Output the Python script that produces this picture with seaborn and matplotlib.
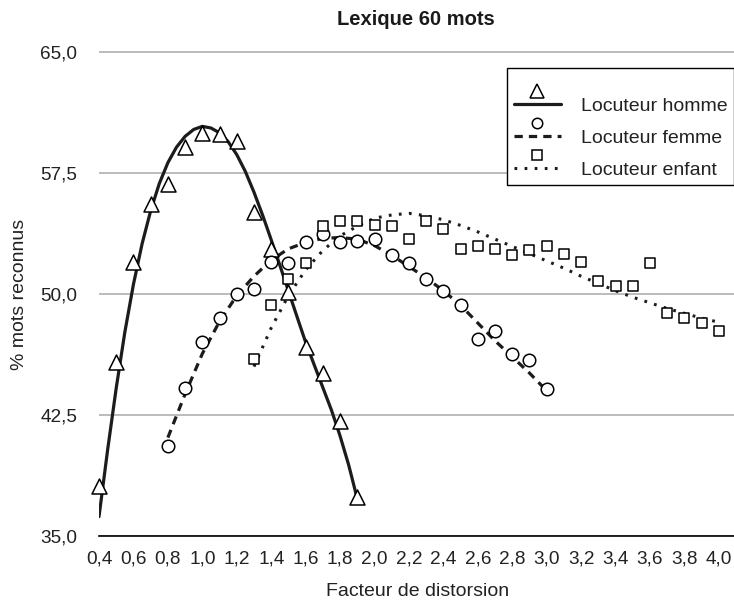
import numpy as np
import matplotlib
matplotlib.use("Agg")
import matplotlib.pyplot as plt
import seaborn as sns
from matplotlib.legend_handler import HandlerBase
from matplotlib.lines import Line2D

# ---------------- data ----------------
title = "Lexique 60 mots"
x_label = "Facteur de distorsion"
y_label = "% mots reconnus"
series_names = ["Locuteur homme", "Locuteur femme", "Locuteur enfant"]

# measured points (markers)
homme_x = [0.4, 0.5, 0.6, 0.7, 0.8, 0.9, 1.0, 1.1, 1.2, 1.3, 1.4, 1.5, 1.6, 1.7, 1.8, 1.9]
homme_y = [38.1, 45.8, 52.0, 55.6, 56.8, 59.1, 60.0, 59.9, 59.5, 55.1, 52.8, 50.1, 46.7, 45.1, 42.1, 37.4]

femme_x = [0.8, 0.9, 1.0, 1.1, 1.2, 1.3, 1.4, 1.5, 1.6, 1.7, 1.8, 1.9, 2.0, 2.1, 2.2,
           2.3, 2.4, 2.5, 2.6, 2.7, 2.8, 2.9, 3.0]
femme_y = [40.6, 44.2, 47.0, 48.5, 50.0, 50.3, 52.0, 51.9, 53.2, 53.7, 53.2, 53.3, 53.4, 52.4, 51.9,
           50.9, 50.2, 49.3, 47.2, 47.7, 46.3, 45.9, 44.1]

enfant_x = [1.3, 1.4, 1.5, 1.6, 1.7, 1.8, 1.9, 2.0, 2.1, 2.2, 2.3, 2.4, 2.5, 2.6, 2.7,
            2.8, 2.9, 3.0, 3.1, 3.2, 3.3, 3.4, 3.5, 3.6, 3.7, 3.8, 3.9, 4.0]
enfant_y = [46.0, 49.3, 50.9, 51.9, 54.2, 54.5, 54.5, 54.3, 54.2, 53.4, 54.5, 54.0, 52.8, 53.0, 52.8,
            52.4, 52.7, 53.0, 52.5, 52.0, 50.8, 50.5, 50.5, 51.9, 48.8, 48.5, 48.2, 47.7]

# trend curves
homme_trend_x = [0.40, 0.45, 0.50, 0.55, 0.60, 0.65, 0.70, 0.75, 0.80, 0.85, 0.90, 0.95, 1.00,
                 1.05, 1.10, 1.15, 1.20, 1.25, 1.30, 1.35, 1.40, 1.45, 1.50, 1.55, 1.60,
                 1.65, 1.70, 1.75, 1.80, 1.85, 1.90]
homme_trend_y = [36.2, 40.33, 44.17, 47.63, 50.6, 53.1, 55.16, 56.84, 58.14, 59.1, 59.77, 60.2, 60.39,
                 60.29, 59.99, 59.44, 58.64, 57.59, 56.31, 54.89, 53.36, 51.79, 50.19, 48.59, 47.01,
                 45.6, 44.2, 42.8, 41.2, 39.4, 37.3]

femme_trend_x = [0.8, 0.9, 1.0, 1.1, 1.2, 1.3, 1.4, 1.5, 1.6, 1.7, 1.8, 1.9, 2.0, 2.1, 2.2,
                 2.3, 2.4, 2.5, 2.6, 2.7, 2.8, 2.9, 3.0]
femme_trend_y = [41.1, 43.8, 46.3, 48.3, 49.9, 51.1, 52.1, 52.8, 53.2, 53.45, 53.5, 53.4, 53.0,
                 52.4, 51.7, 51.0, 50.2, 49.3, 48.2, 47.1, 46.1, 45.1, 44.0]

enfant_trend_x = [1.3, 1.4, 1.5, 1.6, 1.7, 1.8, 1.9, 2.0, 2.1, 2.2, 2.3, 2.4, 2.5, 2.6, 2.7,
                  2.8, 2.9, 3.0, 3.1, 3.2, 3.3, 3.4, 3.5, 3.6, 3.7, 3.8, 3.9, 4.0]
enfant_trend_y = [45.5, 47.9, 49.9, 51.5, 52.7, 53.6, 54.2, 54.7, 54.9, 55.0, 54.85, 54.6, 54.25,
                  53.85, 53.4, 52.95, 52.5, 52.05, 51.6, 51.1, 50.65, 50.2, 49.8, 49.45, 49.1,
                  48.8, 48.5, 48.25]

x_ticks = [0.4, 0.6, 0.8, 1.0, 1.2, 1.4, 1.6, 1.8, 2.0, 2.2, 2.4, 2.6, 2.8, 3.0, 3.2, 3.4, 3.6, 3.8, 4.0]
x_tick_labels = ["0,4", "0,6", "0,8", "1,0", "1,2", "1,4", "1,6", "1,8", "2,0", "2,2",
                 "2,4", "2,6", "2,8", "3,0", "3,2", "3,4", "3,6", "3,8", "4,0"]
y_ticks = [35.0, 42.5, 50.0, 57.5, 65.0]
y_tick_labels = ["35,0", "42,5", "50,0", "57,5", "65,0"]

# ---------------- style ----------------
sns.set_theme(style="white")
plt.rcParams["font.family"] = ["Liberation Sans", "DejaVu Sans"]

INK = "#1c1c1c"
GRID = "#a9a9a9"

W, H = 734, 600
fig = plt.figure(figsize=(W / 100, H / 100), dpi=100)
ax = fig.add_axes([99 / W, 1 - 536 / H, 635 / W, (536 - 51.2) / H])

styles = [
    dict(marker="^", ms=10.8, lms=9.5, ls="-", lw=2.3),
    dict(marker="o", ms=9.0, lms=7.5, ls=(0, (2.6, 1.9)), lw=2.3),
    dict(marker="s", ms=7.8, lms=7.6, ls=(0, (0.9, 2.4)), lw=2.2),
]
points = [(homme_x, homme_y), (femme_x, femme_y), (enfant_x, enfant_y)]
trends = [(homme_trend_x, homme_trend_y), (femme_trend_x, femme_trend_y),
          (enfant_trend_x, enfant_trend_y)]

for (px, py), (tx, ty), st in zip(points, trends, styles):
    sns.lineplot(x=tx, y=ty, ax=ax, color=INK, linewidth=st["lw"],
                 linestyle=st["ls"], zorder=2, legend=False, sort=True)
    sns.scatterplot(x=px, y=py, ax=ax, marker=st["marker"], s=st["ms"] ** 2,
                    color="white", edgecolor="black", linewidth=1.1, zorder=3,
                    legend=False, clip_on=False)

ax.set_xlim(0.4, 0.4 + 635 / 172.2)
ax.set_ylim(35.0, 65.05)
ax.set_xticks(x_ticks)
ax.set_xticklabels(x_tick_labels)
ax.set_yticks(y_ticks)
ax.set_yticklabels(y_tick_labels)
ax.tick_params(axis="x", length=0, pad=10.8, labelsize=13.7, labelcolor="#222222")
ax.tick_params(axis="y", length=0, pad=15.8, labelsize=13.7, labelcolor="#222222")
ax.set_xlabel("")
ax.set_ylabel("")

ax.yaxis.grid(True, color=GRID, linewidth=1.1)
ax.xaxis.grid(False)
ax.set_axisbelow(True)
for s in ["top", "right", "left"]:
    ax.spines[s].set_visible(False)
ax.spines["bottom"].set_color("black")
ax.spines["bottom"].set_linewidth(1.2)
ax.spines["bottom"].set_zorder(4)

fig.text(416 / W, 1 - 25 / H, title, ha="center", va="baseline",
         fontsize=14.5, fontweight="bold", color="#1a1a1a")
fig.text(417.5 / W, 1 - 596 / H, x_label, ha="center", va="baseline",
         fontsize=14, color="#222222")
fig.text(20 / W, 1 - 294 / H, y_label, ha="center", va="center",
         rotation=90, fontsize=14, color="#222222")


# ---------------- legend ----------------
class StackHandler(HandlerBase):
    def __init__(self, marker, ms, ls, lw, offset_pt=10.0):
        super().__init__()
        self.marker, self.ms, self.ls, self.lw, self.off = marker, ms, ls, lw, offset_pt

    def create_artists(self, legend, orig_handle, xdescent, ydescent, width, height,
                       fontsize, trans):
        yc = (height - ydescent) / 2
        line = Line2D([-xdescent, -xdescent + width], [yc, yc], color=INK,
                      linewidth=self.lw, linestyle=self.ls)
        mk = Line2D([-xdescent + width / 2], [yc + self.off], marker=self.marker,
                    markersize=self.ms, markerfacecolor="white",
                    markeredgecolor="black", markeredgewidth=1.1, linestyle="none")
        line.set_transform(trans)
        mk.set_transform(trans)
        return [line, mk]


proxies = [Line2D([], [], label=n) for n in series_names]
hmap = {p: StackHandler(st["marker"], st["lms"], st["ls"], st["lw"])
        for p, st in zip(proxies, styles)}
leg = ax.legend(handles=proxies, labels=series_names, handler_map=hmap,
                loc="upper right", bbox_to_anchor=(733.5 / W, 1 - 68 / H),
                bbox_transform=fig.transFigure, borderaxespad=0, fontsize=14,
                handlelength=2.45, handletextpad=1.0, borderpad=0.32,
                labelspacing=0.74, title=" ", title_fontsize=6.5,
                frameon=True, fancybox=False, edgecolor="black", framealpha=1)
leg.get_frame().set_linewidth(1.0)
for t in leg.get_texts():
    t.set_color("#222222")

fig.savefig("out.png", dpi=100)
